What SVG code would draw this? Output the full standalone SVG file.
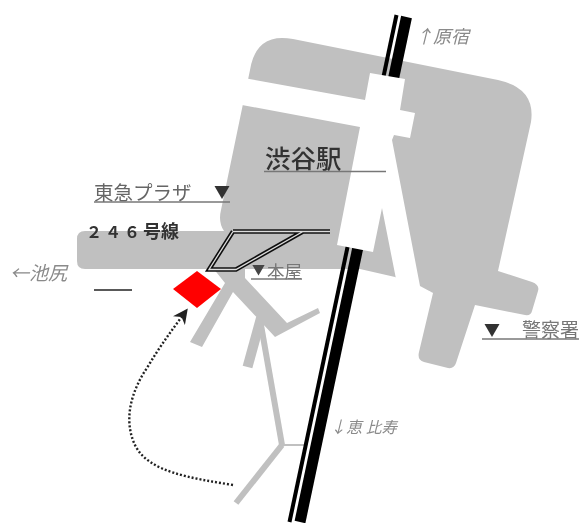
<svg xmlns="http://www.w3.org/2000/svg" width="579" height="523" viewBox="0 0 579 523">
<style>
.g{fill:#c0c0c0}
.r{stroke:#c0c0c0;fill:none}
.t{font-family:"Noto Sans CJK JP","Noto Sans",sans-serif}
.i{font-style:italic;fill:#8a8a8a}
.l{stroke:#777;stroke-width:1.5;fill:none}
</style>
<defs>
<marker id="ah" viewBox="0 0 10 10" refX="8" refY="5" markerWidth="15" markerHeight="15" markerUnits="userSpaceOnUse" orient="auto"><path d="M0 0L10 5L0 10L3 5Z" fill="#222"/></marker>
<filter id="b" x="-5%" y="-5%" width="110%" height="110%"><feGaussianBlur stdDeviation="0.5"/></filter>
</defs>
<rect width="579" height="523" fill="#fff"/>
<g id="map" filter="url(#b)">
<g id="blocks">
<path class="g" d="M293 39L498 80Q536 88 531 122L498 271L532 282Q540 285 538 291L532 311Q531 316 525 315L475 305L456 363Q454 369 448 368L424 362Q417 360 419 352L433 293L395 277L360 269L85 269Q77 269 77 261L77 239Q77 231 85 231L224 231Q218 222 221 210L250 70Q256 32 293 39Z"/>
</g>
<g id="roads">
<path class="g" d="M213 268L245 268L245 278L287 323L318 308L320 313L275 337L233 292L202 347L190 342L225 283Z"/>
<path class="r" stroke-width="10" d="M261 318L247.500 367"/>
<path class="r" stroke-width="6" d="M261 325L282 445"/>
<path class="r" stroke-width="6" d="M282 445L236 503"/>
<path class="r" stroke-width="2" d="M282 445L306 445"/>
</g>
<g id="rail">
<path stroke="#000" stroke-width="11" fill="none" d="M406.500 17L300 522"/>
<path stroke="#000" stroke-width="4" fill="none" d="M396.500 15L289.500 522"/>
</g>
<path id="streets" fill="#fff" d="M238 77L365 100L370 73L405 79L400 110L415 113L410 138L394 135L392 140L420 286L433 293L397 284L382 208L373 252L337 245L360 127L242 105Z"/>
<g id="building">
<path d="M233 231.500L330 231.500M303 231.500L236 269.500L209 269.500L233 231.500" fill="none" stroke="#111" stroke-width="4.500"/>
<path d="M233 231.500L330 231.500M303 231.500L236 269.500L209 269.500L233 231.500" fill="none" stroke="#ddd" stroke-width="1.300"/>
</g>
<path id="destination" d="M173 289L197 271L221 289L197 308Z" fill="#f00"/>
<path id="route" d="M233 485C190 478 150 472 136 447C122 420 132 390 147 368C160 346 172 330 186 311" fill="none" stroke="#222" stroke-width="2.400" stroke-dasharray="2 2" marker-end="url(#ah)"/>
<g id="leaders">
<path class="l" d="M264 171.500H386"/>
<path class="l" d="M94 202H230"/>
<path d="M94 290H132" stroke="#222" stroke-width="1.300"/>
<path class="l" d="M251 279H302"/>
<path class="l" d="M482 339H579"/>
</g>
<g id="labels">
<text class="t" x="265" y="168" font-size="25.500" font-weight="500" fill="#333">渋谷駅</text>
<text class="t" x="94" y="200" font-size="19.500" fill="#666">東急プラザ</text>
<text class="t" x="214" y="198" font-size="16" fill="#333">▼</text>
<text x="86" y="238" font-size="16" font-weight="bold" fill="#333" font-family="'Noto Sans CJK JP',serif">２</text>
<text x="105" y="238" font-size="16" font-weight="bold" fill="#333" font-family="'Noto Sans CJK JP',serif">４</text>
<text x="124" y="238" font-size="16" font-weight="bold" fill="#333" font-family="'Noto Sans CJK JP',serif">６</text>
<text x="143" y="238" font-size="18" font-weight="bold" fill="#333" font-family="'Noto Sans CJK JP',serif">号線</text>
<text class="t i" x="10" y="280" font-size="19">←池尻</text>
<text class="t" x="252" y="274" font-size="13" fill="#444">▼</text>
<text class="t" x="267" y="278" font-size="17.500" fill="#777">本屋</text>
<text class="t i" x="415" y="43" font-size="18">↑原宿</text>
<text class="t i" x="330" y="433" font-size="16">↓恵</text>
<text class="t i" x="366" y="433" font-size="15.500">比寿</text>
<text class="t" x="484" y="336" font-size="16" fill="#333">▼</text>
<text class="t" x="522" y="337" font-size="19" fill="#777">警察署</text>
</g>
</g>
</svg>
